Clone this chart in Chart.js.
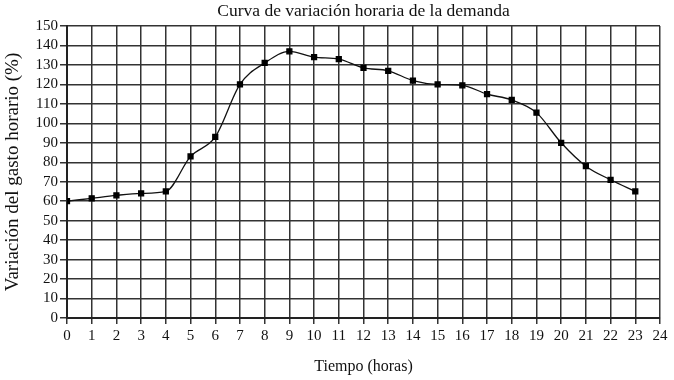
<!DOCTYPE html>
<html>
<head>
<meta charset="utf-8">
<script src="https://cdn.jsdelivr.net/npm/chart.js@4"></script>
<style>
  html, body { margin: 0; padding: 0; background: #fff; }
  #wrap { width: 674px; height: 380px; }
</style>
</head>
<body>
<div id="wrap"><canvas id="demanda"></canvas></div>
<script>
const horas = [0, 1, 2, 3, 4, 5, 6, 7, 8, 9, 10, 11, 12, 13, 14, 15, 16, 17, 18, 19, 20, 21, 22, 23];
const variacion = [60, 61.5, 63, 64, 65, 83, 93, 120, 131, 137, 134, 133, 128.5, 127, 122, 120, 119.5, 115, 112, 105.5, 90, 78, 71, 65];
const yTicks = { min: 0, max: 150, step: 10 };
const xTicks = { min: 0, max: 24, step: 1 };

const fontFam = '"Liberation Serif", "DejaVu Serif", serif';
const ctx = document.getElementById('demanda').getContext('2d');

new Chart(ctx, {
  type: 'line',
  data: {
    datasets: [{
      data: horas.map((h, i) => ({ x: h, y: variacion[i] })),
      borderColor: '#111',
      borderWidth: 1.3,
      pointStyle: 'rect',
      pointRadius: 3.5,
      pointBackgroundColor: '#000',
      pointBorderColor: '#000',
      tension: 0.35,
      cubicInterpolationMode: 'monotone'
    }]
  },
  options: {
    responsive: true,
    maintainAspectRatio: false,
    animation: false,
    layout: { padding: { left: 0, right: 14, top: 0, bottom: 0 } },
    plugins: {
      legend: { display: false },
      tooltip: { enabled: false },
      title: {
        display: true,
        fullSize: false,
        text: 'Curva de variación horaria de la demanda',
        color: '#111',
        font: { family: fontFam, size: 17.5, weight: 'normal' },
        padding: { top: 1, bottom: 4 }
      }
    },
    scales: {
      x: {
        type: 'linear',
        min: xTicks.min,
        max: xTicks.max,
        afterFit: s => { s.height = 62; },
        ticks: { stepSize: xTicks.step, autoSkip: false, color: '#111', font: { family: fontFam, size: 15 }, padding: 3, maxRotation: 0 },
        grid: { color: '#333', lineWidth: 1.5, tickLength: 6 },
        border: { color: '#222', width: 2 },
        title: { display: true, text: 'Tiempo (horas)', color: '#111', font: { family: fontFam, size: 16 }, padding: { top: 6 } }
      },
      y: {
        min: yTicks.min,
        max: yTicks.max,
        afterFit: s => { s.width = 67; },
        ticks: { stepSize: yTicks.step, autoSkip: false, color: '#111', font: { family: fontFam, size: 15 }, padding: 2 },
        grid: { color: '#333', lineWidth: 1.5, tickLength: 7 },
        border: { color: '#222', width: 2 },
        title: { display: true, text: 'Variación del gasto horario (%)', color: '#111', font: { family: fontFam, size: 19 }, padding: { bottom: 0, top: 2 } }
      }
    }
  }
});
</script>
</body>
</html>
